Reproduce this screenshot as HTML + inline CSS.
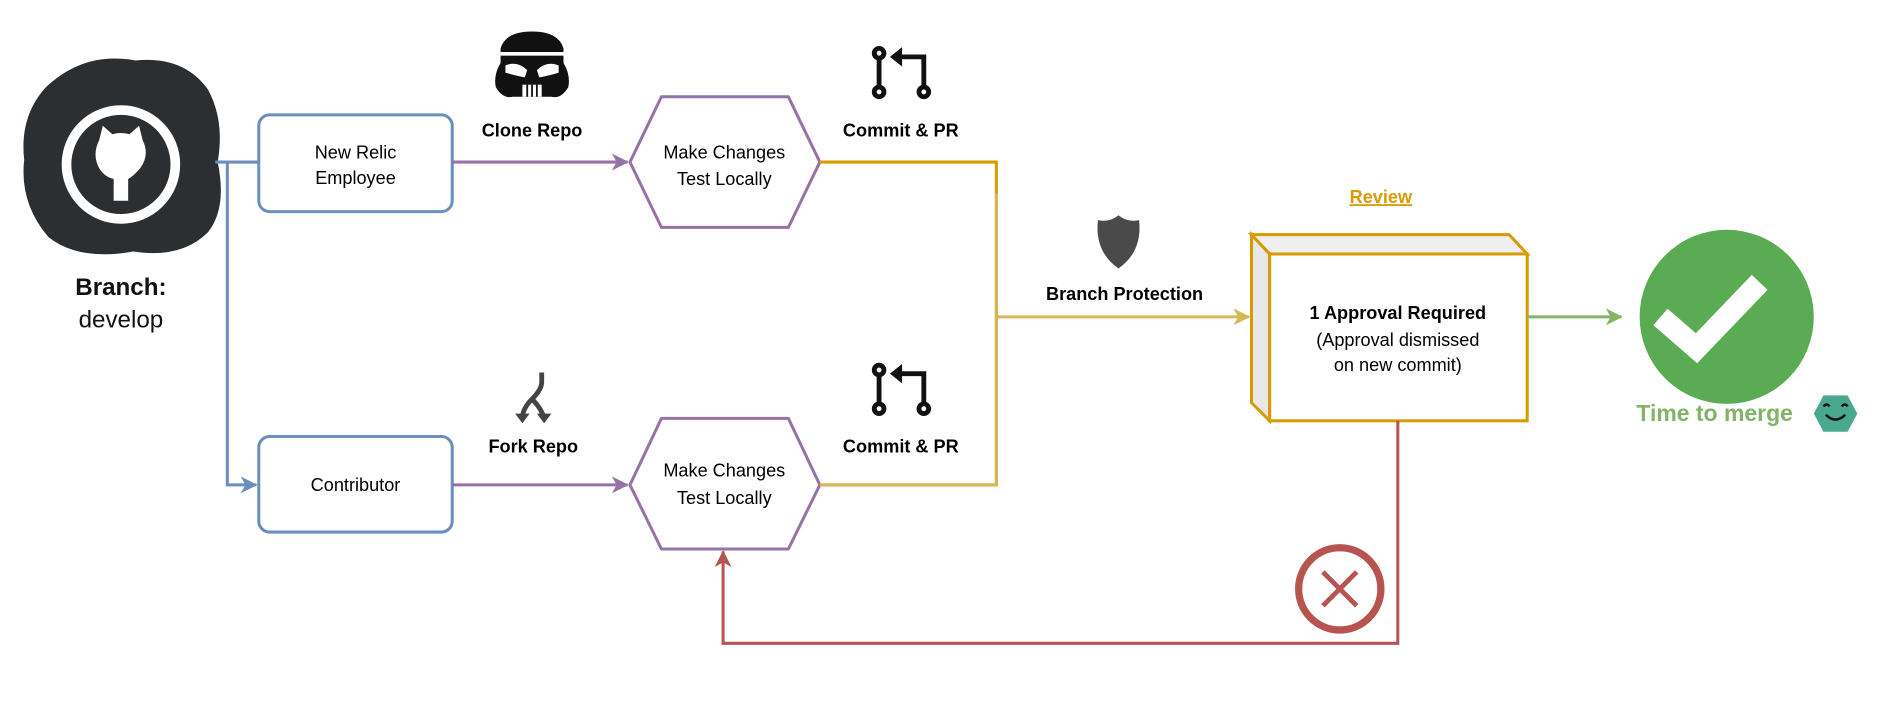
<!DOCTYPE html>
<html><head><style>html,body{margin:0;padding:0;background:#fff;}svg{display:block}</style></head>
<body>
<svg width="1896" height="720" viewBox="0 0 1568 595.4" xmlns="http://www.w3.org/2000/svg" font-family="Liberation Sans, Arial, sans-serif">
<defs>
<marker id="ab" markerWidth="14" markerHeight="14" refX="13" refY="7" orient="auto" markerUnits="userSpaceOnUse"><path d="M0,0 L14,7 L0,14 L4,7z" fill="#6c8ebf"/></marker>
<marker id="ap" markerWidth="14" markerHeight="14" refX="13" refY="7" orient="auto" markerUnits="userSpaceOnUse"><path d="M0,0 L14,7 L0,14 L4,7z" fill="#9673a6"/></marker>
<marker id="ay" markerWidth="14" markerHeight="14" refX="13" refY="7" orient="auto" markerUnits="userSpaceOnUse"><path d="M0,0 L14,7 L0,14 L4,7z" fill="#d6b656"/></marker>
<marker id="ag" markerWidth="14" markerHeight="14" refX="13" refY="7" orient="auto" markerUnits="userSpaceOnUse"><path d="M0,0 L14,7 L0,14 L4,7z" fill="#82b366"/></marker>
<marker id="ar" markerWidth="14" markerHeight="14" refX="13" refY="7" orient="auto" markerUnits="userSpaceOnUse"><path d="M0,0 L14,7 L0,14 L4,7z" fill="#b85450"/></marker>
</defs>
<!-- github blob -->
<path d="M38,72 Q70,42 112,50 Q152,46 172,74 Q186,100 180,134 Q188,172 172,192 Q150,214 110,208 Q65,216 40,196 Q16,168 20,132 Q16,96 38,72z" fill="#2b2f31"/>
<circle cx="100" cy="136" r="45" fill="none" stroke="#fff" stroke-width="8"/>
<path d="M82,116 L85,104 L93,111 Q100,109 107,111 L115,104 L118,116 Q124,128 116,139 Q110,146 106,148 L106,166 L94,166 L94,148 Q86,146 82,139 Q76,128 82,116z" fill="#fff"/>
<text x="100" y="244" font-size="20" font-weight="bold" text-anchor="middle" fill="#111">Branch:</text>
<text x="100" y="271" font-size="20" text-anchor="middle" fill="#111">develop</text>
<!-- blue -->
<path d="M178,134 L214,134" stroke="#6c8ebf" stroke-width="2.5" fill="none"/>
<path d="M188,134 L188,401 L212,401" stroke="#6c8ebf" stroke-width="2.5" fill="none" marker-end="url(#ab)"/>
<rect x="214" y="95" width="160" height="80" rx="9" fill="#fff" stroke="#6c8ebf" stroke-width="2.5"/>
<text x="294" y="131" font-size="15" text-anchor="middle">New Relic</text>
<text x="294" y="152" font-size="15" text-anchor="middle">Employee</text>
<rect x="214" y="361" width="160" height="79" rx="9" fill="#fff" stroke="#6c8ebf" stroke-width="2.5"/>
<text x="294" y="406" font-size="15" text-anchor="middle">Contributor</text>
<!-- purple -->
<path d="M374,134 L519,134" stroke="#9673a6" stroke-width="2.5" marker-end="url(#ap)"/>
<path d="M374,401 L519,401" stroke="#9673a6" stroke-width="2.5" marker-end="url(#ap)"/>
<path d="M521,134 L547,80 L652,80 L678,134 L652,188 L547,188z" fill="#fff" stroke="#9673a6" stroke-width="2.5" stroke-linejoin="round"/>
<text x="599" y="131" font-size="15" text-anchor="middle">Make Changes</text>
<text x="599" y="153" font-size="15" text-anchor="middle">Test Locally</text>
<path d="M521,401 L547,346 L652,346 L678,401 L652,454 L547,454z" fill="#fff" stroke="#9673a6" stroke-width="2.5" stroke-linejoin="round"/>
<text x="599" y="394" font-size="15" text-anchor="middle">Make Changes</text>
<text x="599" y="417" font-size="15" text-anchor="middle">Test Locally</text>
<!-- labels/icons -->
<path d="M414,40 Q418,26 440,26 Q462,26 466,40 L466,52 Q472,62 470,72 Q464,82 456,80 L424,80 Q416,82 410,72 Q408,62 414,52z" fill="#111"/>
<path d="M418,54 Q428,50 436,58 L434,64 Q424,62 418,60z M462,54 Q452,50 444,58 L446,64 Q456,62 462,60z" fill="#fff"/>
<rect x="432" y="70" width="16" height="10" fill="#fff"/><path d="M436,70v10M440,70v10M444,70v10" stroke="#111" stroke-width="1.5"/>
<rect x="414" y="43" width="52" height="3" fill="#fff"/>
<text x="440" y="113" font-size="15" font-weight="bold" text-anchor="middle">Clone Repo</text>
<path d="M448,308 L448,316 Q448,322 440,330 Q432,338 432,346" stroke="#444" stroke-width="4" fill="none"/>
<path d="M440,330 Q448,338 450,346" stroke="#444" stroke-width="4" fill="none"/>
<path d="M426,342 L432,350 L438,342z M444,342 L450,350 L456,342z" fill="#444"/>
<text x="441" y="374" font-size="15" font-weight="bold" text-anchor="middle">Fork Repo</text>
<g fill="none" stroke="#111" stroke-width="4">
<circle cx="727" cy="44" r="4"/><circle cx="727" cy="76" r="4"/><path d="M727,48 L727,72"/>
<circle cx="764" cy="76" r="4"/><path d="M764,72 L764,47 L744,47"/>
</g>
<path d="M736,47 L746,39 L746,55z" fill="#111"/>
<text x="745" y="113" font-size="15" font-weight="bold" text-anchor="middle">Commit &amp; PR</text>
<g transform="translate(0,262)"><g fill="none" stroke="#111" stroke-width="4">
<circle cx="727" cy="44" r="4"/><circle cx="727" cy="76" r="4"/><path d="M727,48 L727,72"/>
<circle cx="764" cy="76" r="4"/><path d="M764,72 L764,47 L744,47"/></g>
<path d="M736,47 L746,39 L746,55z" fill="#111"/></g>
<text x="745" y="374" font-size="15" font-weight="bold" text-anchor="middle">Commit &amp; PR</text>
<!-- yellow -->
<path d="M678,134 L824,134 L824,401 L678,401" stroke="#d79b00" stroke-width="2.5" fill="none"/>
<path d="M824,160 L824,401 L678,401" stroke="#d6b656" stroke-width="2.5" fill="none"/>
<path d="M824,262 L1033,262" stroke="#d6b656" stroke-width="2.5" marker-end="url(#ay)"/>
<path d="M908,182 Q918,184 925,178 Q932,184 942,182 Q945,208 925,222 Q905,208 908,182z" fill="#4a4a4a"/>
<text x="930" y="248" font-size="15" font-weight="bold" text-anchor="middle">Branch Protection</text>
<text x="1142" y="168" font-size="15" font-weight="bold" text-anchor="middle" fill="#d79b00" text-decoration="underline">Review</text>
<!-- box -->
<path d="M1035,194 L1050,210 L1050,348 L1035,333z" fill="#e8e8e8" stroke="#d79b00" stroke-width="2.5"/>
<path d="M1035,194 L1248,194 L1263,210 L1050,210z" fill="#efefef" stroke="#d79b00" stroke-width="2.5"/>
<rect x="1050" y="210" width="213" height="138" fill="#fff" stroke="#d79b00" stroke-width="2.5"/>
<text x="1156" y="264" font-size="15" font-weight="bold" text-anchor="middle">1 Approval Required</text>
<text x="1156" y="286" font-size="15" text-anchor="middle">(Approval dismissed</text>
<text x="1156" y="307" font-size="15" text-anchor="middle">on new commit)</text>
<path d="M1263,262 L1341,262" stroke="#82b366" stroke-width="2.5" marker-end="url(#ag)"/>
<circle cx="1428" cy="262" r="72" fill="#5aab54"/>
<path d="M1380,268 L1403,288 L1449,240" stroke="#fff" stroke-width="18" fill="none" stroke-linecap="square"/>
<text x="1418" y="348" font-size="19" font-weight="bold" text-anchor="middle" fill="#82b366">Time to merge</text>
<path d="M1508,327 L1528,327 L1536,342 L1528,357 L1508,357 L1500,342z" fill="#4aa88f" stroke-linejoin="round"/>
<path d="M1508,336 q3,-3 5,0 M1523,336 q3,-3 5,0 M1510,343 q8,8 16,0" stroke="#111" stroke-width="2" fill="none"/>
<!-- red -->
<path d="M1156,348 L1156,532 L598,532 L598,456" stroke="#b85450" stroke-width="2.5" fill="none" marker-end="url(#ar)"/>
<circle cx="1108" cy="487" r="34" fill="#fff" stroke="#b85450" stroke-width="6"/>
<path d="M1094,473 L1122,501 M1122,473 L1094,501" stroke="#b85450" stroke-width="4"/>
</svg>
</body></html>
